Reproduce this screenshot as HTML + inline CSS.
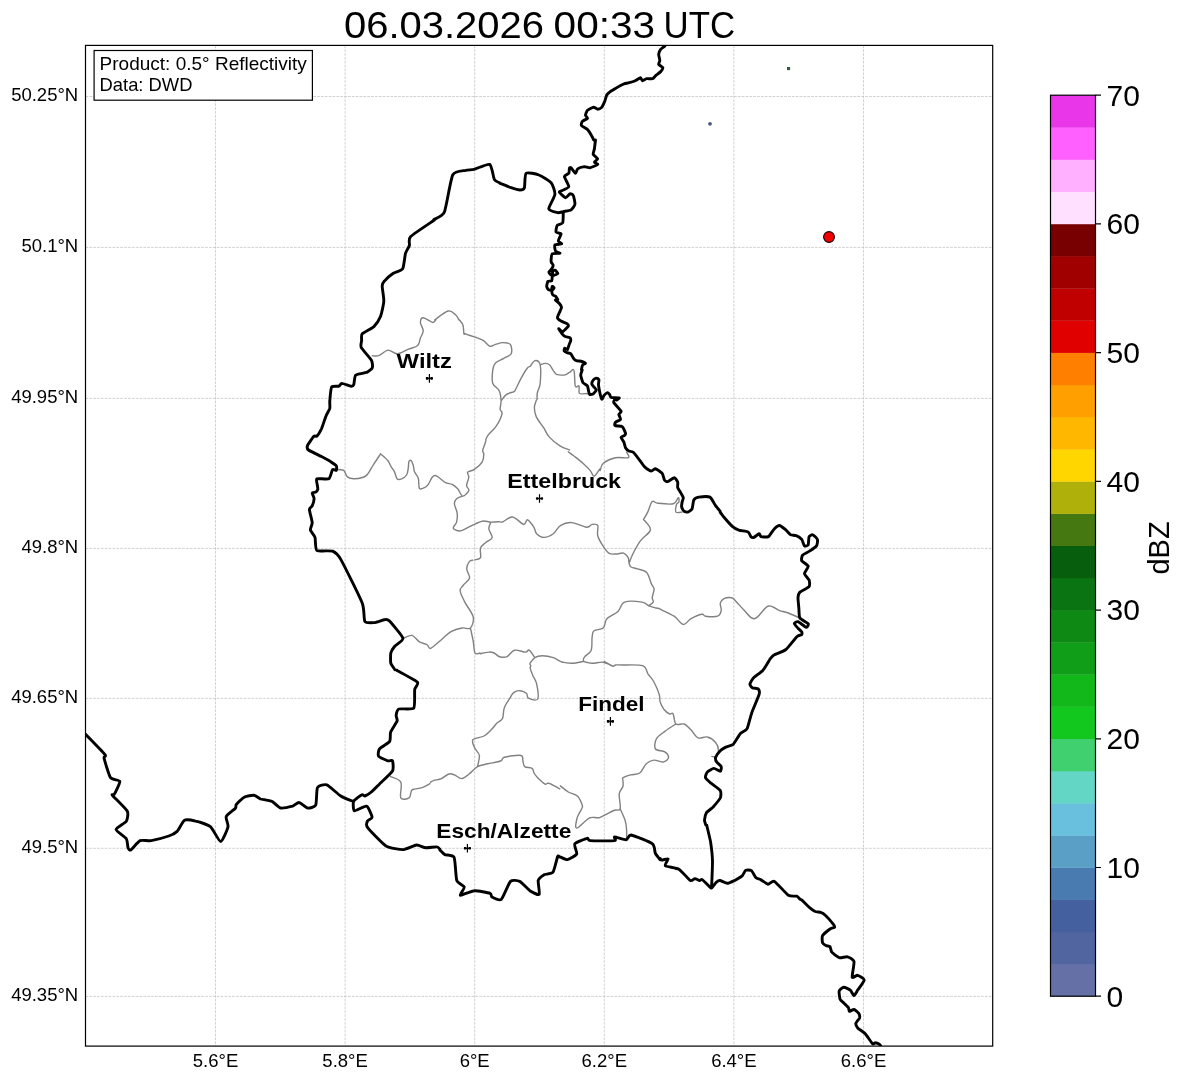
<!DOCTYPE html>
<html><head><meta charset="utf-8"><style>
html,body{margin:0;padding:0;background:#fff;}
svg{display:block;font-family:"Liberation Sans",sans-serif;will-change:transform;}
</style></head><body>
<svg width="1184" height="1081" viewBox="0 0 1184 1081">
<rect width="1184" height="1081" fill="#fff"/>
<text x="344.0" y="38.2" font-size="36.6" textLength="200.0" lengthAdjust="spacingAndGlyphs">06.03.2026</text>
<text x="553.6" y="38.2" font-size="36.6" textLength="101.5" lengthAdjust="spacingAndGlyphs">00:33</text>
<text x="663.6" y="38.2" font-size="36.6" textLength="71.6" lengthAdjust="spacingAndGlyphs">UTC</text>
<path d="M215.5 45.4V1046.1M345.1 45.4V1046.1M474.7 45.4V1046.1M604.3 45.4V1046.1M733.9 45.4V1046.1M863.5 45.4V1046.1M85.5 96.5H992.7M85.5 247.4H992.7M85.5 398.4H992.7M85.5 548.4H992.7M85.5 698.4H992.7M85.5 848.3H992.7M85.5 996.4H992.7" stroke="#c2c2c2" stroke-width="0.75" stroke-dasharray="2.7 1.16" fill="none"/>
<defs><clipPath id="ax"><rect x="85.5" y="45.4" width="907.2" height="1000.7"/></clipPath></defs><g clip-path="url(#ax)" fill="none" stroke-linejoin="round" stroke-linecap="round"><path d="M434.8,319.8C437.0,318.4 444.7,311.8 448.1,311.0C451.6,310.1 453.7,313.2 455.5,314.7C457.3,316.1 458.4,318.9 458.9,319.8M568.3,451.8C569.2,452.5 571.2,453.9 573.7,455.8C576.1,457.7 580.1,460.7 582.9,463.2C585.7,465.7 588.5,468.5 590.3,470.6C592.2,472.8 592.4,476.4 594.0,476.2C595.6,475.9 598.8,470.1 599.8,468.9M372.3,355.7C373.4,355.7 376.2,356.6 378.8,355.7C381.4,354.8 385.0,350.4 388.1,350.1C391.1,349.8 393.9,354.0 397.3,353.8C400.7,353.7 405.0,350.6 408.4,349.2C411.8,347.8 415.7,347.4 417.7,345.5C419.7,343.7 419.5,340.6 420.4,338.1C421.4,335.6 423.2,333.3 423.2,330.7C423.2,328.1 420.4,324.5 420.4,322.4C420.4,320.2 421.2,317.8 423.2,317.8C425.2,317.8 430.4,322.0 432.5,322.4C434.6,322.8 435.2,320.4 435.8,320.0M459.5,320.1C460.0,320.9 462.2,322.9 463.0,325.2C463.7,327.4 463.6,332.0 463.9,333.5C464.2,334.9 464.7,333.8 464.8,333.9M336.3,469.5C337.5,469.6 341.8,469.2 343.7,470.4C345.5,471.6 345.5,475.5 347.4,476.9C349.2,478.3 351.7,478.9 354.8,478.7C357.8,478.6 362.8,478.3 365.9,475.9C368.9,473.6 370.9,468.3 373.3,464.8C375.6,461.4 378.7,456.7 379.8,455.0M472.9,560.2C472.3,560.4 470.5,560.0 469.5,561.4C468.4,562.8 466.7,566.0 466.7,568.8C466.7,571.6 470.1,575.3 469.5,578.1C468.8,580.8 464.5,583.3 463.0,585.5C461.4,587.6 459.9,588.2 460.2,591.0C460.5,593.8 462.7,597.8 464.8,602.1C467.0,606.4 472.2,612.6 473.2,616.9C474.1,621.2 472.2,626.2 470.4,628.0C468.5,629.9 465.3,627.4 462.1,628.0C458.8,628.6 454.7,629.6 451.0,631.7C447.3,633.9 443.3,638.2 439.9,641.0C436.5,643.7 432.8,647.7 430.6,648.4C428.5,649.0 428.8,645.7 426.9,644.7C425.1,643.6 422.0,643.4 419.5,641.9C417.0,640.3 414.7,636.0 412.1,635.4C409.5,634.8 405.2,637.7 403.8,638.2M470.4,628.0C470.9,630.2 472.4,636.8 473.2,641.0C473.9,645.1 473.9,651.0 475.0,653.0C476.1,655.0 479.0,653.0 479.8,653.0M500.3,522.1C500.8,522.0 501.3,522.5 503.3,521.6C505.3,520.8 509.2,516.5 512.6,517.0C515.9,517.5 521.2,523.9 523.7,524.4C526.1,524.9 525.7,519.3 527.4,519.8C529.1,520.2 532.3,524.9 533.8,527.2C535.4,529.5 534.9,532.0 536.6,533.7C538.3,535.3 541.2,537.4 544.0,537.4C546.8,537.4 550.5,535.7 553.3,533.7C556.0,531.6 557.6,527.2 560.7,525.3C563.7,523.5 567.4,522.2 571.8,522.6C576.1,522.9 583.2,526.9 586.6,527.2C590.0,527.5 590.3,524.7 592.1,524.4C594.0,524.1 596.7,523.5 597.7,525.3C598.6,527.2 596.9,532.3 597.7,535.5C598.4,538.7 600.4,541.8 602.3,544.8C604.1,547.7 606.4,551.5 608.8,553.1C611.1,554.6 613.7,554.0 616.2,554.0C618.6,554.0 621.6,552.5 623.6,553.1C625.6,553.7 627.3,556.0 628.2,557.7C629.1,559.4 628.6,561.7 629.1,563.3C629.6,564.8 629.6,566.0 631.0,567.0C632.3,567.9 634.8,567.9 637.4,568.8C640.1,569.7 644.4,570.0 646.7,572.5C649.0,575.0 650.1,580.8 651.3,583.6C652.5,586.4 653.9,586.8 654.1,589.2C654.2,591.5 652.4,595.3 652.2,597.5C652.1,599.6 653.8,600.7 653.2,602.1C652.5,603.5 649.3,605.2 648.5,605.8M629.1,563.3C629.7,561.7 631.0,557.7 632.8,554.0C634.7,550.3 637.3,545.1 640.2,541.1C643.1,537.0 649.7,533.4 650.4,530.0C651.1,526.5 645.2,521.8 644.2,520.2M648.5,605.8C649.6,606.1 653.2,607.2 655.0,607.7C656.9,608.1 658.9,608.4 659.6,608.6M648.5,605.8C647.5,605.2 646.1,602.7 642.1,602.1C638.1,601.5 628.5,600.6 624.5,602.1C620.5,603.7 620.9,608.6 618.0,611.4C615.1,614.1 609.4,616.0 606.9,618.8C604.4,621.5 605.4,626.0 603.2,628.0C601.1,630.0 595.8,629.2 594.0,630.8C592.1,632.3 592.6,634.0 592.1,637.3C591.6,640.5 592.4,647.0 591.2,650.2C590.0,653.5 585.9,654.8 584.7,656.7C583.5,658.5 582.6,660.2 583.8,661.3C585.0,662.4 588.9,663.0 592.1,663.2C595.3,663.3 599.8,661.8 603.2,662.2C606.6,662.7 610.7,665.4 612.5,665.9C614.3,666.5 613.7,665.7 614.0,665.7M583.8,661.3C582.1,661.6 577.2,663.0 573.6,663.2C570.1,663.3 565.9,663.2 562.5,662.2C559.1,661.3 556.6,658.7 553.3,657.6C549.9,656.5 545.2,655.8 542.2,655.8C539.1,655.8 536.8,656.4 534.8,657.6C532.8,658.8 530.9,662.0 530.1,663.2C529.4,664.3 530.3,664.4 530.3,664.7M534.8,657.6C533.8,656.4 530.7,651.1 529.2,650.2C527.7,649.3 528.0,652.1 525.5,652.1C523.0,652.1 517.5,649.4 514.4,650.2C511.3,651.0 509.5,655.6 507.0,656.7C504.5,657.8 501.8,657.3 499.6,656.7C497.4,656.1 495.9,653.8 494.1,653.0C492.2,652.2 490.8,651.9 488.5,652.1C486.2,652.2 481.6,653.4 480.3,653.7M660.1,609.2C662.5,610.4 670.2,613.6 674.1,616.2C677.9,618.7 680.5,624.0 683.3,624.5C686.1,624.9 687.6,620.6 690.7,618.9C693.8,617.2 699.3,614.8 701.8,614.3C704.3,613.8 702.9,615.9 705.5,616.2C708.1,616.5 714.9,617.1 717.5,616.2C720.2,615.2 720.8,612.8 721.2,610.6C721.7,608.5 719.8,605.2 720.3,603.2C720.8,601.2 722.2,599.5 724.0,598.6C725.9,597.7 729.6,597.4 731.4,597.7C733.3,598.0 732.9,598.3 735.1,600.4C737.3,602.6 741.6,607.7 744.4,610.6C747.1,613.5 749.6,616.9 751.8,618.0C753.9,619.1 754.5,619.1 757.3,617.1C760.1,615.1 764.7,607.1 768.4,606.0C772.1,604.9 776.4,609.5 779.5,610.6C782.6,611.7 783.5,611.2 786.9,612.5C790.3,613.7 797.7,617.1 799.9,618.0M615.1,665.2 615.6,665.1M622.2,665.0C625.6,665.1 638.2,664.2 642.6,665.7C646.9,667.2 646.3,671.4 648.1,674.1C650.0,676.7 651.8,678.1 653.7,681.5C655.5,684.8 658.1,691.0 659.2,694.4C660.3,697.8 659.4,699.3 660.1,701.8C660.9,704.3 662.3,707.2 663.8,709.2C665.4,711.2 667.8,713.1 669.4,713.8C670.9,714.6 672.0,712.1 673.1,713.8C674.2,715.5 674.0,722.3 675.9,724.0C677.7,725.7 681.7,723.1 684.2,724.0C686.6,724.9 688.3,727.2 690.7,729.6C693.0,731.9 695.3,736.6 698.1,737.9C700.8,739.1 704.4,736.2 707.3,737.0C710.2,737.7 713.8,740.3 715.6,742.5C717.5,744.7 718.3,747.6 718.4,749.9C718.6,752.2 717.6,755.3 716.6,756.4C715.5,757.5 712.7,756.4 711.9,756.4M675.9,724.0C674.0,725.2 668.0,728.9 664.8,731.4C661.5,733.9 658.0,735.9 656.4,738.8C654.9,741.7 654.1,746.8 655.5,749.0C656.9,751.1 662.6,750.4 664.8,751.8C666.9,753.1 668.6,755.6 668.5,757.3C668.3,759.0 666.3,761.5 663.8,761.9C661.4,762.4 656.6,759.8 653.7,760.1C650.7,760.4 648.6,761.6 646.3,763.8C643.9,765.9 642.4,771.2 639.8,773.0C637.2,774.9 633.3,774.1 630.5,774.9C627.8,775.7 624.4,776.9 623.1,777.7C621.8,778.5 622.9,779.3 622.8,779.7M530.8,665.5C530.7,666.0 529.9,666.8 530.3,668.5C530.6,670.2 532.0,673.3 533.0,675.9C534.1,678.5 536.0,680.4 536.7,684.2C537.5,688.1 539.0,696.7 537.7,699.0C536.3,701.3 530.3,699.0 528.4,698.1C526.6,697.2 527.9,694.7 526.6,693.5C525.2,692.2 522.2,690.9 520.1,690.7C517.9,690.5 515.3,691.3 513.6,692.6C511.9,693.8 511.4,695.6 509.9,698.1C508.4,700.6 505.6,704.0 504.4,707.4C503.1,710.7 503.7,715.8 502.5,718.5C501.3,721.1 498.8,721.2 497.0,723.1C495.1,724.9 493.6,727.4 491.4,729.6C489.2,731.7 487.1,734.3 484.0,736.0C480.9,737.7 474.4,737.7 472.9,739.7C471.4,741.7 473.7,745.4 474.8,748.1C475.8,750.7 478.9,752.4 479.4,755.5C479.8,758.5 477.8,764.7 477.5,766.6M430.4,782.3C431.0,782.0 432.2,781.1 434.1,780.4C435.9,779.8 439.0,779.7 441.5,778.6C443.9,777.5 446.7,774.6 448.9,774.0C451.0,773.3 452.2,774.1 454.4,774.9C456.6,775.7 459.3,778.7 461.8,778.6C464.3,778.4 466.6,776.0 469.2,774.0C471.8,772.0 474.4,768.3 477.5,766.6C480.6,764.9 483.9,764.7 487.7,763.8C491.6,762.9 497.9,762.1 500.7,761.0C503.4,759.9 501.0,758.2 504.4,757.3C507.7,756.4 517.9,754.8 521.0,755.5C524.1,756.1 522.2,759.2 522.9,761.0C523.5,762.9 523.2,765.3 524.7,766.6C526.3,767.8 530.6,767.3 532.1,768.4C533.7,769.5 533.0,771.5 534.0,773.0C534.9,774.6 536.7,776.6 537.7,777.7C538.6,778.7 538.3,778.4 539.5,779.5C540.7,780.6 543.5,783.5 545.1,784.1C546.6,784.8 546.6,782.6 548.8,783.2C550.9,783.8 556.2,786.9 558.0,787.8C559.8,788.8 559.5,788.7 559.8,788.9M390.6,776.6C392.3,777.5 399.1,778.6 400.8,782.1C402.5,785.7 399.4,795.2 400.8,797.8C402.2,800.5 407.4,798.8 409.1,797.8C410.8,796.9 410.3,793.7 411.0,792.3C411.6,790.9 411.0,790.3 412.8,789.5C414.7,788.7 419.2,788.6 422.1,787.7C424.9,786.7 428.6,784.4 429.9,783.7M465.0,333.6C467.0,334.4 473.9,336.8 477.0,337.9C480.1,339.1 481.3,339.3 483.5,340.7C485.6,342.1 487.9,345.6 490.0,346.3C492.0,346.9 493.3,345.0 495.5,344.4C497.7,343.8 500.4,342.6 502.9,342.6C505.4,342.6 508.9,342.6 510.3,344.4C511.7,346.3 512.3,351.3 511.2,353.7C510.2,356.0 506.5,356.7 503.8,358.3C501.2,359.8 497.4,360.9 495.5,362.9C493.7,364.9 493.2,366.9 492.7,370.3C492.3,373.7 491.6,379.9 492.7,383.3C493.8,386.6 497.8,387.7 499.2,390.7C500.6,393.6 500.9,397.7 501.1,400.8C501.2,403.9 500.0,407.0 500.1,409.2C500.3,411.3 502.6,411.0 502.0,413.8C501.4,416.6 498.7,422.3 496.4,425.8C494.1,429.4 489.9,432.7 488.1,435.1C486.3,437.4 486.2,438.9 485.8,439.7M501.1,400.8C502.0,399.8 504.4,395.9 506.6,394.4C508.8,392.8 512.5,392.5 514.0,391.6C515.5,390.7 514.6,391.1 515.9,388.8C517.1,386.5 519.6,381.1 521.4,377.7C523.3,374.3 525.5,370.3 527.0,368.5C528.4,366.6 529.4,366.8 529.9,366.5M536.3,400.3C536.0,401.5 534.4,404.6 534.4,407.3C534.3,410.0 534.7,413.2 536.2,416.6C537.7,420.0 541.4,424.3 543.6,427.7C545.8,431.1 546.4,433.8 549.2,436.9C551.9,440.0 556.9,444.0 560.3,446.2C563.7,448.3 568.0,449.2 569.5,449.9M380.4,453.7C381.6,454.8 386.0,458.4 387.8,460.5C389.6,462.7 390.0,464.8 391.1,466.6C392.2,468.5 393.4,469.6 394.4,471.6C395.4,473.7 396.0,477.7 397.2,478.9C398.4,480.1 400.1,479.5 401.6,478.9C403.2,478.2 405.5,476.8 406.6,475.0C407.8,473.1 407.9,470.0 408.3,467.8C408.7,465.5 408.4,462.8 408.9,461.6C409.3,460.4 410.3,459.9 411.1,460.5C411.8,461.2 412.7,463.7 413.3,465.5C413.9,467.4 413.6,469.5 414.4,471.6C415.2,473.8 417.5,475.5 418.3,478.3C419.1,481.1 418.4,486.7 419.4,488.3C420.4,489.9 422.9,488.4 424.4,487.7C425.9,487.1 427.0,486.2 428.3,484.4C429.6,482.6 431.0,478.7 432.2,477.2C433.4,475.7 434.2,475.3 435.5,475.5C436.8,475.7 438.3,477.1 439.9,478.3C441.6,479.5 443.5,481.7 445.5,482.7C447.5,483.8 450.1,483.4 452.2,484.4C454.2,485.4 455.9,486.9 457.7,488.8C459.5,490.8 460.9,495.8 462.7,496.1C464.6,496.3 468.2,492.3 468.8,490.5C469.5,488.8 466.6,487.7 466.6,485.5C466.6,483.3 468.6,479.4 468.8,477.2C469.0,475.0 466.8,473.5 467.7,472.2C468.6,470.9 472.0,471.1 474.4,469.4C476.8,467.8 480.6,464.7 482.1,462.2C483.7,459.7 483.7,456.4 483.8,454.4C483.9,452.5 482.5,452.3 482.7,450.5C482.9,448.8 484.4,445.6 484.9,443.9C485.4,442.2 485.7,441.1 485.9,440.5M462.7,496.1C461.7,496.5 458.0,497.5 456.6,498.8C455.2,500.1 454.3,501.4 454.4,503.8C454.5,506.2 456.8,510.2 457.2,513.3C457.5,516.3 457.2,519.6 456.6,522.1C455.9,524.6 452.7,526.8 453.3,528.3C453.8,529.7 457.5,531.1 459.9,531.0C462.3,530.9 465.1,528.9 467.7,527.7C470.3,526.5 472.9,524.9 475.5,523.8C478.1,522.7 480.6,521.3 483.2,521.0C485.8,520.8 488.3,522.0 491.0,522.1C493.7,522.2 498.1,521.7 499.5,521.6M491.0,522.1C490.6,523.3 488.6,526.2 488.8,528.8C489.0,531.4 492.7,535.4 492.1,537.7C491.6,540.0 487.4,540.9 485.5,542.7C483.5,544.4 481.3,545.7 480.5,548.2C479.6,550.7 481.4,555.7 480.5,557.7C479.5,559.6 475.8,559.5 474.8,559.8M560.4,785.9C561.7,786.9 565.5,790.3 568.3,792.0C571.2,793.7 575.3,794.0 577.6,796.2C579.9,798.3 581.5,802.9 582.2,805.0C582.9,807.1 582.6,806.5 581.7,808.7C580.9,810.8 578.0,814.7 577.1,817.9C576.3,821.2 574.6,828.1 576.7,828.1C578.7,828.1 585.7,819.7 589.6,817.9C593.5,816.2 595.8,818.7 599.8,817.5C603.8,816.2 610.3,812.0 613.7,810.5C617.0,809.1 619.2,811.5 620.1,808.7C621.1,805.9 618.7,797.6 619.2,793.9C619.7,790.2 622.3,788.7 622.9,786.5C623.5,784.3 622.9,781.5 622.9,780.5M620.1,808.7C621.0,810.7 624.1,817.2 625.2,820.7C626.3,824.2 626.4,827.2 626.6,830.0C626.8,832.7 626.6,836.1 626.6,837.4M604.5,661.5C605.9,662.3 610.7,665.6 612.6,666.2C614.5,666.8 613.8,665.1 615.9,664.9C618.0,664.7 623.5,665.0 625.0,665.0M530.3,366.2C531.1,365.3 533.4,360.8 535.1,360.6C536.7,360.4 539.3,361.0 540.2,364.8C541.0,368.5 540.6,378.6 540.2,383.3C539.7,387.9 537.9,389.8 537.4,392.5C536.9,395.2 537.0,398.3 537.0,399.5M540.2,364.8C541.1,364.5 544.2,363.4 545.7,363.4C547.3,363.4 548.2,363.6 549.4,364.8C550.7,365.9 552.0,368.8 553.1,370.3C554.2,371.8 554.8,373.2 555.9,374.0C557.0,374.8 558.1,374.8 559.6,374.9C561.1,375.1 563.5,375.4 565.2,374.9C566.8,374.5 568.3,372.9 569.8,372.2C571.2,371.4 573.0,368.0 573.9,370.3C574.9,372.6 574.5,383.4 575.3,386.0C576.2,388.7 578.3,384.8 579.0,386.0C579.7,387.3 578.3,392.2 579.5,393.4C580.7,394.7 585.2,393.4 586.3,393.4M586.6,393.7 588.1,393.7M600.2,470.6C600.7,469.3 600.8,465.4 603.3,463.3C605.9,461.1 611.4,458.6 615.5,457.7C619.7,456.8 626.5,458.6 628.3,457.7C630.2,456.8 626.9,453.1 626.6,452.2M643.5,519.6C644.2,518.3 646.3,515.1 647.7,512.1C649.2,509.1 650.5,503.1 652.2,501.6C653.8,500.1 654.2,502.9 657.7,503.2C661.2,503.6 669.8,504.7 673.3,503.8C676.7,502.9 677.3,498.0 678.3,497.7C679.2,497.4 679.1,501.0 678.8,502.1C678.5,503.2 677.1,502.7 676.6,504.3C676.1,506.0 675.1,510.8 676.0,512.1C677.0,513.4 681.1,512.1 682.1,512.1" stroke="#808080" stroke-width="1.4"/><path d="M433.8,219.7C434.9,218.9 442.5,216.5 444.4,212.0C446.3,207.5 450.6,179.1 452.7,175.0C454.9,170.8 463.6,170.9 465.7,170.4C467.8,169.8 471.6,170.0 474.0,169.4C476.4,168.8 487.7,163.4 489.7,164.4C491.8,165.4 493.4,177.8 494.4,179.6C495.3,181.4 499.1,182.5 499.6,182.8M361.7,340.1C361.7,340.8 360.3,345.3 361.2,347.4C362.2,349.4 370.3,358.3 371.4,360.3C372.5,362.3 372.8,366.5 372.3,367.7C371.9,368.9 368.4,371.6 366.8,372.3C365.1,373.1 357.0,373.9 355.7,375.1C354.4,376.3 354.3,383.2 353.8,384.4C353.4,385.5 352.3,386.3 351.1,386.2C349.9,386.1 343.0,383.4 341.8,383.4C340.6,383.4 340.0,385.8 339.0,386.2C338.0,386.6 332.6,385.7 331.6,387.1C330.7,388.6 330.0,398.9 329.8,401.0C329.6,403.1 330.1,406.9 329.8,408.4C329.4,409.9 326.9,413.8 326.1,415.8C325.2,417.8 322.4,426.7 321.5,428.8C320.5,430.8 317.6,435.4 316.8,436.2C316.1,436.9 315.0,435.2 314.1,436.2C313.1,437.1 308.1,444.0 307.6,445.4C307.0,446.8 307.1,448.9 308.5,450.0C309.9,451.1 319.3,455.4 321.5,456.5C323.6,457.6 328.3,460.2 329.8,461.1C331.3,462.1 335.6,464.8 336.3,465.8C336.9,466.7 336.6,470.0 336.3,470.4C335.9,470.8 333.3,468.6 332.6,469.5C331.8,470.3 330.4,477.8 328.9,478.7C327.3,479.6 318.0,478.1 316.8,478.7C315.7,479.3 317.3,484.3 317.3,484.9M317.3,485.1C317.4,485.6 317.9,488.6 317.8,489.3C317.6,489.9 316.5,491.7 315.9,492.0C315.3,492.4 312.4,492.3 312.2,493.0C312.0,493.6 314.1,497.2 314.1,498.5C314.1,499.8 312.7,504.8 312.2,505.9C311.7,507.0 309.4,507.9 309.4,509.6C309.4,511.3 312.1,520.5 312.2,522.6C312.3,524.6 310.1,528.5 310.4,530.0C310.6,531.4 314.3,535.3 315.0,537.4C315.6,539.4 315.1,548.9 316.8,550.3C318.6,551.7 330.1,550.3 332.6,551.2C335.0,552.2 337.9,554.4 340.9,559.6C343.8,564.7 359.8,596.8 362.2,603.0C364.6,609.2 363.6,619.6 364.9,621.5C366.2,623.5 373.2,622.6 375.1,622.5C377.0,622.3 383.0,619.9 384.4,619.7C385.7,619.5 387.1,618.8 389.0,620.6C390.8,622.5 402.3,635.6 402.9,638.2C403.4,640.8 395.7,645.0 394.5,646.5C393.3,648.0 391.2,651.3 390.8,653.0C390.5,654.7 390.4,661.5 390.8,663.2C391.2,664.8 394.5,669.0 394.9,669.7M720.3,512.4C720.7,512.8 722.8,515.8 724.0,517.2C725.2,518.6 730.9,525.1 732.3,526.4C733.8,527.7 737.2,529.6 738.8,530.1C740.4,530.7 746.9,531.3 748.1,532.0C749.3,532.6 750.3,536.0 750.8,536.6C751.4,537.2 752.8,537.8 753.6,537.5C754.4,537.3 758.4,533.9 759.2,533.8C759.9,533.7 760.1,536.3 761.0,536.6C761.9,536.9 767.1,537.3 768.4,536.6C769.7,535.9 772.8,530.3 774.0,529.2C775.1,528.1 778.3,525.4 779.5,525.5C780.7,525.6 784.9,529.2 786.0,530.1C787.1,531.1 789.6,534.2 790.6,534.8C791.6,535.3 795.1,535.2 796.2,535.7C797.3,536.1 800.9,538.4 801.7,539.4C802.5,540.4 803.8,545.3 804.5,545.9C805.1,546.4 807.7,545.9 808.2,544.9C808.6,544.0 808.6,537.6 809.1,536.6C809.6,535.6 812.0,534.5 812.8,534.8C813.6,535.0 817.1,538.3 817.4,539.4C817.8,540.5 817.3,544.7 816.5,545.9C815.7,547.1 810.5,550.5 809.1,551.4C807.7,552.3 803.4,554.2 802.6,555.1C801.9,556.0 801.2,559.5 801.7,560.7C802.3,561.8 807.9,564.9 808.2,566.2C808.5,567.5 804.4,572.2 804.5,573.6C804.6,575.0 808.6,578.8 809.1,580.1C809.6,581.4 810.0,585.4 809.1,586.6C808.2,587.8 801.0,591.0 799.9,592.1C798.8,593.2 798.1,596.0 798.0,597.7C797.9,599.3 798.8,606.7 798.9,608.8C799.1,610.8 798.9,616.5 799.9,618.0C800.8,619.5 807.5,622.6 808.2,623.6C808.8,624.5 807.4,627.4 806.3,627.3C805.3,627.1 799.2,622.1 798.0,621.7C796.8,621.3 794.3,622.9 794.3,623.6C794.3,624.2 797.3,627.4 798.0,628.2C798.8,629.0 801.3,631.2 801.7,631.9C802.1,632.5 802.2,634.2 801.7,634.7C801.2,635.1 798.7,635.0 797.1,636.5C795.5,638.0 788.3,647.6 786.0,649.5C783.7,651.3 775.5,654.1 774.0,655.0C772.4,655.9 770.7,658.3 770.3,658.7C769.8,659.2 769.7,659.5 769.7,659.6M769.2,660.4C768.6,661.4 764.4,668.6 762.8,670.4C761.2,672.1 754.9,676.4 753.6,677.8C752.3,679.1 750.0,683.2 749.9,684.2C749.8,685.2 751.8,687.5 752.6,687.9C753.5,688.4 757.5,688.2 758.2,688.9C758.8,689.5 759.8,692.0 759.1,694.4C758.5,696.8 752.9,709.5 751.7,712.9C750.5,716.3 748.2,726.6 747.1,728.6C746.0,730.7 742.0,731.7 740.6,733.3C739.2,734.8 734.7,743.0 733.2,744.4C731.7,745.7 727.1,746.5 725.8,747.1C724.5,747.8 721.3,749.8 720.3,750.8C719.2,751.9 716.0,756.2 715.6,757.3C715.3,758.4 716.0,761.0 716.6,761.9C717.1,762.9 720.8,765.6 721.2,766.6C721.6,767.5 721.0,771.0 720.3,771.2C719.5,771.4 715.1,768.3 713.8,768.4C712.5,768.5 708.1,771.2 707.3,772.1C706.5,773.0 705.1,776.5 705.5,777.7C705.8,778.8 709.5,781.9 711.0,783.2C712.5,784.5 719.3,789.1 720.3,790.6C721.2,792.1 721.0,796.3 720.3,798.0C719.5,799.7 714.2,805.8 712.9,807.3C711.5,808.7 707.2,811.5 706.4,812.8C705.6,814.1 704.6,819.0 704.5,820.2C704.5,821.4 705.6,824.3 705.7,824.8M396.8,670.1C396.9,670.2 395.9,669.9 398.0,671.1C400.1,672.3 415.8,680.4 417.4,682.2C419.1,684.1 415.0,687.0 414.7,689.6C414.3,692.2 415.3,706.2 413.7,708.1C412.2,710.0 400.7,708.3 398.9,709.0C397.2,709.8 396.3,714.3 396.2,715.5C396.0,716.7 397.6,719.4 397.1,721.1C396.5,722.7 391.4,730.1 390.6,732.2C389.9,734.2 390.8,739.7 389.7,741.4C388.6,743.1 380.6,747.3 379.5,748.8C378.4,750.3 377.8,755.0 378.6,756.2C379.4,757.4 386.4,760.4 387.8,760.8C389.2,761.3 392.0,759.8 392.5,760.8C392.9,761.9 393.8,768.7 392.5,771.0C391.2,773.3 381.5,781.9 379.5,784.0C377.5,786.0 373.6,790.2 372.1,791.4C370.6,792.6 365.7,795.7 364.7,796.0C363.7,796.3 363.0,794.1 361.9,794.7C360.8,795.2 354.3,799.9 353.6,801.5C352.9,803.1 353.2,810.3 354.5,810.8C355.8,811.2 364.8,805.5 366.6,806.2C368.3,806.8 372.0,815.8 372.1,817.3C372.2,818.7 367.9,819.9 367.5,821.0C367.0,822.0 365.6,824.9 367.5,827.4C369.3,829.9 382.4,843.7 386.0,845.9C389.6,848.2 400.5,849.7 403.6,849.6C406.6,849.5 414.3,845.2 416.5,845.0C418.7,844.8 423.7,847.6 425.8,847.8C427.8,848.0 435.5,846.7 436.9,846.9C438.3,847.0 439.5,848.8 439.7,849.0M353.6,801.5C352.3,801.0 343.3,797.7 340.7,796.0C338.0,794.3 329.1,785.7 326.8,784.9C324.5,784.1 318.6,785.6 317.5,787.7C316.4,789.7 316.7,803.2 315.7,805.2C314.7,807.3 309.0,808.3 307.4,808.0C305.7,807.7 300.5,802.6 299.0,802.5C297.5,802.3 294.4,805.6 292.6,806.2C290.7,806.7 282.6,808.5 280.5,808.0C278.5,807.5 273.7,802.3 272.2,801.5C270.7,800.7 265.9,800.1 265.2,799.9M85.6,734.2C87.5,736.3 103.1,752.2 105.0,754.6C106.8,757.0 103.5,756.0 104.1,758.3C104.6,760.6 109.0,775.4 110.5,777.7C112.1,780.0 119.4,779.7 119.8,781.4C120.1,783.1 115.0,793.0 114.2,794.4C113.5,795.7 111.1,793.6 112.4,795.3C113.7,796.9 125.8,808.4 127.2,811.0C128.6,813.6 127.4,819.3 126.3,821.2C125.1,823.0 116.1,827.8 116.1,829.5C116.1,831.3 125.1,836.9 126.3,838.8C127.5,840.6 127.6,846.9 128.1,848.0C128.6,849.1 129.7,850.6 130.9,849.9C132.1,849.1 138.1,841.5 140.1,840.6C142.2,839.7 148.4,841.1 151.2,840.6C154.1,840.1 166.2,836.9 168.8,836.0C171.4,835.1 175.6,832.9 177.1,831.4C178.7,829.8 182.7,821.3 184.5,820.3C186.4,819.2 193.0,820.5 195.6,821.2C198.2,821.8 207.9,824.7 210.4,826.7C212.9,828.8 218.9,841.5 220.6,841.5C222.4,841.5 227.5,829.2 228.0,826.7C228.6,824.2 225.4,818.4 226.2,816.6C226.9,814.7 234.4,809.4 235.4,808.2C236.4,807.0 235.4,805.6 236.3,804.5C237.3,803.4 242.9,798.1 244.7,797.1C246.4,796.2 252.3,795.1 253.9,795.3C255.5,795.5 259.3,798.5 260.4,799.0C261.5,799.4 264.4,799.6 264.9,799.7M440.0,850.1C440.5,850.6 443.4,853.9 444.8,854.6C446.2,855.3 452.8,854.8 454.1,857.4C455.3,859.9 455.8,877.5 456.8,880.5C457.8,883.4 463.9,885.5 464.2,887.0C464.6,888.4 459.5,894.9 460.5,895.3C461.5,895.7 471.4,890.8 474.4,890.7C477.4,890.5 488.4,892.8 490.1,893.4C491.9,894.1 490.9,896.5 492.0,897.1C493.1,897.7 499.4,901.1 501.2,899.5C503.1,898.0 508.6,883.2 510.5,881.4C512.3,879.6 517.8,880.5 519.7,881.4C521.7,882.3 528.0,889.4 529.9,890.7C531.9,892.0 538.3,895.4 539.2,894.4C540.0,893.3 537.8,882.4 538.2,880.5C538.7,878.5 542.3,875.8 543.8,874.9C545.3,874.1 551.6,874.0 553.0,872.2C554.4,870.3 557.0,857.9 557.7,856.4C558.3,854.9 559.4,856.9 559.6,857.0M660.3,858.6C660.4,858.7 660.8,860.1 661.6,860.1C662.4,860.2 667.7,858.3 668.1,858.8C668.5,859.4 664.2,864.6 665.3,865.7C666.4,866.7 676.7,867.9 679.2,869.4C681.7,870.9 688.7,879.6 690.3,880.5C691.9,881.4 694.0,878.6 694.9,878.6C695.9,878.6 698.8,880.4 699.6,880.5C700.3,880.6 701.2,878.8 702.3,879.6C703.4,880.3 709.6,887.1 710.7,887.9C711.7,888.6 712.0,887.5 712.5,887.0C713.1,886.4 715.5,883.0 716.2,882.3C716.9,881.7 718.8,880.4 719.9,880.5C721.0,880.6 725.8,883.3 727.3,883.3C728.8,883.3 733.2,881.2 734.7,880.5C736.2,879.7 741.0,876.9 742.1,875.9C743.2,874.8 744.9,870.8 745.8,870.3C746.7,869.8 750.3,869.9 751.4,870.7C752.4,871.4 755.1,876.8 756.0,877.7C756.9,878.6 759.4,878.9 760.6,879.6C761.8,880.2 766.6,884.0 768.0,884.2C769.4,884.4 772.5,880.3 774.5,881.4C776.5,882.5 786.1,893.8 788.4,895.3C790.6,896.8 795.5,895.8 796.7,896.2C797.9,896.6 799.8,899.0 800.2,899.3M706.7,825.2C707.1,826.9 710.1,839.0 710.7,842.6C711.2,846.1 712.4,856.6 712.5,861.1C712.6,865.5 711.7,884.4 711.6,887.0M800.9,899.5C801.0,899.6 801.4,899.6 802.2,900.4C803.0,901.1 807.4,905.7 808.7,906.8C810.0,907.9 814.0,910.9 815.2,911.5C816.4,912.0 819.7,912.0 820.7,912.4C821.7,912.7 824.1,914.0 825.3,915.2C826.5,916.3 831.8,922.3 832.7,923.5C833.7,924.7 834.9,926.6 834.6,927.2C834.3,927.7 831.2,928.2 830.0,929.0C828.8,929.9 823.3,934.1 822.6,935.5C821.8,936.9 822.2,941.9 822.6,942.9C822.9,943.9 825.5,945.3 826.3,945.7C827.0,946.0 829.4,946.0 830.0,946.6C830.5,947.3 830.9,951.0 831.8,952.2C832.7,953.3 837.6,957.2 839.2,957.7C840.8,958.2 846.0,956.4 847.5,956.8C849.0,957.2 853.5,959.4 854.0,961.4C854.5,963.4 851.8,975.7 852.2,977.1C852.5,978.5 856.5,975.0 857.7,975.3C858.9,975.6 864.2,978.4 864.2,979.9C864.2,981.4 858.7,988.5 857.7,990.1C856.7,991.7 854.7,995.6 854.0,995.6C853.3,995.6 851.3,990.9 850.3,990.1C849.3,989.3 844.9,987.2 843.8,987.3C842.7,987.4 839.6,989.8 839.2,991.0C838.8,992.2 839.7,998.1 840.1,999.3C840.6,1000.5 843.0,1002.2 843.8,1003.0C844.7,1003.9 847.9,1006.8 848.5,1007.7C849.0,1008.5 848.8,1011.2 849.4,1011.4C849.9,1011.5 853.1,1009.3 854.0,1009.5C854.9,1009.7 858.1,1012.4 858.6,1013.2C859.2,1014.0 859.8,1016.8 859.6,1017.8C859.3,1018.9 856.0,1022.4 855.9,1023.4C855.7,1024.4 856.8,1027.0 857.7,1028.0C858.6,1029.0 863.6,1032.0 865.1,1033.6C866.6,1035.1 871.5,1042.8 872.5,1043.7C873.5,1044.7 874.5,1042.7 875.3,1042.8C876.0,1042.9 879.4,1044.3 879.9,1044.7C880.5,1045.0 880.7,1046.3 880.8,1046.5M434.4,220.0C432.0,221.7 413.0,234.1 410.5,236.7C408.0,239.2 409.9,243.9 409.4,245.5C408.9,247.2 406.2,251.0 405.5,253.3C404.8,255.6 403.9,266.8 402.7,268.8C401.5,270.8 395.1,272.1 393.3,273.3C391.5,274.5 385.5,279.8 384.4,281.1C383.3,282.3 382.2,284.1 382.2,286.0C382.1,288.0 384.0,298.0 383.8,301.0C383.7,304.1 381.5,314.0 380.5,316.6C379.5,319.1 375.7,324.8 373.9,326.6C372.0,328.3 363.4,332.4 362.2,333.8C361.0,335.1 361.7,339.4 361.6,340.0M664.8,46.1C664.4,46.4 661.4,48.3 660.8,49.2C660.2,50.0 658.8,53.1 658.7,54.2C658.6,55.4 659.8,59.3 659.8,60.4C659.8,61.4 658.4,63.7 658.7,64.4C659.0,65.1 662.6,66.8 662.8,67.5C663.0,68.2 661.5,70.7 660.8,71.5C660.1,72.4 656.5,74.9 655.7,75.6C654.9,76.3 653.6,78.4 652.6,78.7C651.7,79.0 647.5,78.5 646.5,78.7C645.5,78.9 643.1,80.8 642.5,80.7C641.9,80.6 641.1,77.7 640.4,77.7C639.7,77.7 636.5,80.2 635.3,80.7C634.2,81.2 630.4,82.4 629.2,82.7C628.1,83.0 625.1,83.5 624.1,83.8C623.2,84.1 621.0,85.3 620.1,85.8C619.2,86.3 616.0,88.2 615.0,88.8C614.0,89.5 610.7,91.3 609.9,91.9C609.1,92.5 607.4,94.0 606.8,94.9C606.3,95.9 605.3,99.8 604.8,101.1C604.3,102.3 602.5,106.3 601.8,107.2C601.0,108.0 598.5,109.2 597.7,109.2C596.9,109.2 594.6,107.1 593.6,107.2C592.6,107.3 588.3,109.4 587.5,110.2C586.7,111.0 585.5,114.5 585.5,115.3C585.5,116.1 587.8,117.7 587.5,118.4C587.2,119.0 583.0,120.7 582.4,121.4C581.8,122.1 580.9,124.7 581.4,125.5C581.9,126.3 586.5,128.5 587.5,129.5C588.5,130.6 591.0,134.6 591.6,135.7C592.2,136.7 593.5,139.5 593.7,139.9M560.0,856.8C560.7,857.1 565.7,859.8 567.4,859.6C569.1,859.3 575.9,855.6 576.7,854.0C577.4,852.4 573.7,845.4 574.8,843.8C575.9,842.3 585.8,838.6 587.3,838.3C588.8,838.0 587.3,840.4 590.1,840.6C592.8,840.8 612.1,841.0 614.6,840.6C617.0,840.2 613.4,837.0 614.6,836.9C615.7,836.8 624.5,839.9 626.1,839.7C627.8,839.5 628.6,834.6 631.2,835.0C633.9,835.5 650.1,842.0 652.5,843.8C654.9,845.6 654.5,851.5 655.3,853.1C656.0,854.7 659.5,858.9 660.0,859.6M551.1,260.3C551.1,260.5 551.1,261.9 551.3,262.4C551.5,262.8 553.1,264.5 553.1,265.1C553.2,265.8 552.2,268.1 551.7,268.8C551.3,269.5 549.1,271.5 549.0,272.1C548.8,272.6 549.8,274.1 550.4,274.4C550.9,274.7 553.3,275.4 554.1,275.3C554.8,275.2 557.7,274.0 557.8,273.5C557.8,272.9 555.5,270.4 555.0,270.2C554.5,270.0 552.9,271.0 552.7,271.6C552.4,272.2 552.3,275.3 552.2,276.2C552.1,277.2 552.2,280.3 551.7,280.9C551.3,281.4 548.5,280.8 548.0,281.3C547.5,281.9 546.6,285.6 546.7,286.4C546.7,287.2 547.9,289.3 548.5,289.6C549.1,290.0 551.6,290.3 552.2,290.1C552.8,289.9 554.1,288.2 554.1,287.8C554.1,287.4 552.4,286.1 552.2,286.4C552.0,286.7 551.7,290.2 551.7,291.0C551.8,291.9 552.2,294.2 552.7,294.7C553.1,295.3 555.4,296.1 555.9,296.6C556.4,297.1 557.6,299.4 557.8,299.7M555.4,300.0C555.9,300.4 559.0,303.0 559.6,303.7C560.2,304.4 561.4,306.7 561.5,307.4C561.5,308.1 560.4,310.2 560.1,311.1C559.7,312.0 558.0,315.4 557.8,316.2C557.5,316.9 557.4,318.0 557.8,318.5C558.1,319.0 560.5,320.8 561.5,321.3C562.4,321.8 566.3,323.1 567.0,323.6C567.7,324.1 568.5,325.3 568.4,325.9C568.3,326.5 566.2,328.5 565.6,329.1C565.0,329.7 563.1,332.0 562.4,331.9C561.7,331.9 558.7,328.4 558.7,328.7C558.7,328.9 561.7,333.4 562.4,334.2C563.0,335.0 564.4,336.2 565.2,336.5C565.9,336.9 569.7,337.5 570.2,337.9C570.8,338.3 570.8,340.0 570.7,340.7C570.6,341.4 569.2,344.4 568.9,345.3C568.5,346.2 567.9,349.2 567.5,349.5C567.0,349.8 565.0,348.0 564.7,348.1C564.4,348.2 564.0,350.4 564.2,350.9C564.5,351.3 566.4,352.5 567.0,352.7C567.7,353.0 570.1,353.1 570.7,353.7C571.4,354.2 572.9,357.6 573.5,358.3C574.0,359.0 575.4,360.3 576.3,360.6C577.1,360.9 580.9,361.2 581.8,361.5C582.7,361.8 585.4,363.0 585.5,363.4C585.6,363.7 583.1,364.1 582.7,364.8C582.3,365.4 581.5,369.2 581.4,369.7M582.2,370.0C582.1,370.5 580.7,373.9 580.7,375.2C580.8,376.4 582.3,381.5 583.0,382.6C583.6,383.7 586.8,385.1 587.4,385.9C588.0,386.7 588.3,389.9 588.5,390.7C588.7,391.6 589.1,394.1 589.6,394.4C590.1,394.7 592.7,394.1 593.3,393.7C594.0,393.2 596.3,390.7 596.3,390.0C596.3,389.2 593.8,386.9 593.3,386.3C592.9,385.7 591.9,384.7 591.8,384.1C591.8,383.5 592.5,381.0 593.0,380.4C593.4,379.8 595.7,378.2 596.3,378.1C596.9,378.1 598.6,379.0 598.9,379.6C599.1,380.3 598.4,383.6 598.5,384.8C598.6,386.0 599.3,390.0 599.6,391.5C599.9,392.9 601.4,398.8 601.8,399.2C602.2,399.7 603.1,396.6 603.7,395.9C604.2,395.2 606.8,392.7 607.4,392.6C608.0,392.4 609.2,393.9 609.6,394.4C610.0,394.9 610.1,397.0 611.1,397.4C612.0,397.7 618.7,397.5 619.2,397.8C619.8,398.0 616.9,399.8 616.7,400.0M500.0,183.3C501.1,183.7 509.1,187.1 511.1,187.7C513.1,188.4 518.6,190.0 520.0,190.0C521.3,190.0 523.8,189.4 524.4,187.7C525.0,186.1 524.6,174.6 526.1,173.3C527.5,172.0 536.4,174.0 538.9,175.0C541.4,175.9 549.5,180.8 551.1,182.7C552.7,184.7 555.2,191.8 554.9,194.4C554.7,197.0 548.6,207.0 548.8,208.8C549.1,210.7 556.3,212.4 557.7,212.7C559.2,213.0 561.9,211.9 563.3,211.6C564.6,211.3 569.9,210.7 571.0,209.9C572.2,209.2 574.7,205.8 574.9,204.4C575.2,202.9 573.8,196.6 573.3,195.5C572.8,194.4 570.7,193.6 569.9,193.8C569.2,194.1 566.5,197.9 565.5,197.7C564.4,197.6 559.7,192.9 559.4,192.2C559.1,191.5 561.2,191.1 562.2,190.5C563.1,190.0 568.6,188.0 568.8,186.6C569.0,185.2 564.4,178.0 564.4,176.6C564.4,175.3 568.3,174.1 568.8,173.3C569.3,172.5 569.2,168.9 569.4,168.3C569.6,167.8 570.4,167.3 571.0,167.8C571.7,168.3 574.8,173.2 575.5,173.3C576.2,173.4 576.8,169.5 577.7,168.9C578.6,168.2 583.1,166.8 584.4,166.6C585.6,166.5 588.6,168.0 589.9,167.8C591.2,167.5 597.2,165.0 597.7,164.4C598.1,163.9 594.4,162.8 594.4,162.2C594.4,161.6 597.8,159.6 597.7,158.9C597.6,158.1 593.6,155.4 593.2,154.4C592.9,153.4 594.1,150.3 594.4,148.9C594.6,147.4 595.4,140.9 595.5,140.0M563.3,211.6C563.2,212.7 563.3,221.3 562.7,222.7C562.1,224.1 557.8,224.5 557.2,225.5C556.5,226.4 555.7,231.3 556.1,232.1C556.4,233.0 560.8,232.9 561.1,233.8C561.3,234.7 558.2,240.0 558.3,241.0C558.3,242.0 561.9,243.4 561.6,243.8C561.3,244.2 555.6,244.2 554.9,244.9C554.3,245.6 555.0,250.2 555.5,251.0C556.0,251.8 560.3,253.0 559.9,253.2C559.6,253.5 553.1,253.1 552.2,253.8C551.3,254.5 551.2,259.4 551.1,260.0M614.4,400.0C614.4,400.3 613.2,401.7 613.9,402.8C614.5,403.9 620.6,409.9 621.1,411.1C621.6,412.3 618.9,413.6 618.9,414.4C618.8,415.3 620.9,418.6 620.5,419.4C620.2,420.2 616.1,421.6 615.5,422.2C615.0,422.8 614.3,425.1 615.0,425.5C615.7,426.0 621.1,425.9 622.2,426.6C623.3,427.4 625.3,432.4 625.5,433.3C625.8,434.2 624.9,435.1 624.4,435.5C624.0,435.9 621.1,436.5 621.1,437.2C621.0,437.9 623.4,441.1 623.9,442.2C624.3,443.2 625.0,446.8 625.5,447.7C626.0,448.6 628.1,450.6 628.9,451.1C629.6,451.5 632.1,451.1 633.3,452.2C634.5,453.3 640.0,460.7 641.1,462.2C642.2,463.6 643.4,465.7 644.4,466.6C645.4,467.5 650.0,470.8 651.1,471.0C652.2,471.3 654.4,468.6 655.5,468.8C656.6,469.0 661.3,472.2 662.2,473.3C663.1,474.4 663.8,479.1 664.4,479.9C664.9,480.8 666.7,481.8 667.7,481.6C668.7,481.4 673.4,477.7 674.4,477.7C675.4,477.8 677.4,481.1 677.7,482.1C678.0,483.1 677.4,486.6 677.7,487.7C678.0,488.8 680.5,492.2 681.0,493.2C681.6,494.2 683.1,496.8 683.3,497.7C683.4,498.6 682.3,501.2 682.1,502.1C682.0,503.0 681.4,505.7 681.6,506.6C681.8,507.5 683.2,510.5 683.8,511.0C684.4,511.6 686.9,512.3 687.7,512.1C688.5,511.9 691.5,510.0 692.1,508.8C692.7,507.6 693.1,501.1 693.8,499.9C694.5,498.7 697.2,497.4 698.8,497.1C700.4,496.9 708.2,496.3 709.9,497.1C711.6,498.0 714.4,504.1 715.4,505.5C716.5,506.8 719.5,510.5 720.0,511.0" stroke="#000" stroke-width="2.9"/></g>
<rect x="85.5" y="45.4" width="907.2" height="1000.7" fill="none" stroke="#000" stroke-width="1.2"/>
<text x="215.5" y="1067.2" font-size="18.5" text-anchor="middle">5.6°E</text><text x="345.1" y="1067.2" font-size="18.5" text-anchor="middle">5.8°E</text><text x="474.7" y="1067.2" font-size="18.5" text-anchor="middle">6°E</text><text x="604.3" y="1067.2" font-size="18.5" text-anchor="middle">6.2°E</text><text x="733.9" y="1067.2" font-size="18.5" text-anchor="middle">6.4°E</text><text x="863.5" y="1067.2" font-size="18.5" text-anchor="middle">6.6°E</text><text x="78.2" y="101.1" font-size="18.5" text-anchor="end">50.25°N</text><text x="78.2" y="252.0" font-size="18.5" text-anchor="end">50.1°N</text><text x="78.2" y="403.1" font-size="18.5" text-anchor="end">49.95°N</text><text x="78.2" y="553.0" font-size="18.5" text-anchor="end">49.8°N</text><text x="78.2" y="703.0" font-size="18.5" text-anchor="end">49.65°N</text><text x="78.2" y="852.9" font-size="18.5" text-anchor="end">49.5°N</text><text x="78.2" y="1001.0" font-size="18.5" text-anchor="end">49.35°N</text>
<rect x="1050.5" y="964.02" width="45.0" height="32.48" fill="#6571a6"/><rect x="1050.5" y="931.84" width="45.0" height="32.48" fill="#5166a0"/><rect x="1050.5" y="899.66" width="45.0" height="32.48" fill="#44609f"/><rect x="1050.5" y="867.49" width="45.0" height="32.48" fill="#4a7bb0"/><rect x="1050.5" y="835.31" width="45.0" height="32.48" fill="#5a9fc6"/><rect x="1050.5" y="803.13" width="45.0" height="32.48" fill="#68c0de"/><rect x="1050.5" y="770.95" width="45.0" height="32.48" fill="#64d6c6"/><rect x="1050.5" y="738.77" width="45.0" height="32.48" fill="#40d070"/><rect x="1050.5" y="706.59" width="45.0" height="32.48" fill="#12c81e"/><rect x="1050.5" y="674.41" width="45.0" height="32.48" fill="#12b81a"/><rect x="1050.5" y="642.24" width="45.0" height="32.48" fill="#109e18"/><rect x="1050.5" y="610.06" width="45.0" height="32.48" fill="#0e8a14"/><rect x="1050.5" y="577.88" width="45.0" height="32.48" fill="#0a7412"/><rect x="1050.5" y="545.70" width="45.0" height="32.48" fill="#075e0c"/><rect x="1050.5" y="513.52" width="45.0" height="32.48" fill="#457810"/><rect x="1050.5" y="481.34" width="45.0" height="32.48" fill="#b0b00a"/><rect x="1050.5" y="449.16" width="45.0" height="32.48" fill="#ffd600"/><rect x="1050.5" y="416.99" width="45.0" height="32.48" fill="#ffb700"/><rect x="1050.5" y="384.81" width="45.0" height="32.48" fill="#ff9f00"/><rect x="1050.5" y="352.63" width="45.0" height="32.48" fill="#ff7f00"/><rect x="1050.5" y="320.45" width="45.0" height="32.48" fill="#e00000"/><rect x="1050.5" y="288.27" width="45.0" height="32.48" fill="#c00000"/><rect x="1050.5" y="256.09" width="45.0" height="32.48" fill="#a00000"/><rect x="1050.5" y="223.91" width="45.0" height="32.48" fill="#780000"/><rect x="1050.5" y="191.74" width="45.0" height="32.48" fill="#ffe0ff"/><rect x="1050.5" y="159.56" width="45.0" height="32.48" fill="#ffb0ff"/><rect x="1050.5" y="127.38" width="45.0" height="32.48" fill="#ff60ff"/><rect x="1050.5" y="95.20" width="45.0" height="32.48" fill="#e836e8"/>
<rect x="1050.5" y="95.2" width="45.0" height="901.0" fill="none" stroke="#000" stroke-width="1.2"/>
<text x="1106.5" y="1006.5" font-size="30">0</text>
<text x="1106.5" y="877.8" font-size="30">10</text>
<text x="1106.5" y="749.1" font-size="30">20</text>
<text x="1106.5" y="620.4" font-size="30">30</text>
<text x="1106.5" y="491.6" font-size="30">40</text>
<text x="1106.5" y="362.9" font-size="30">50</text>
<text x="1106.5" y="234.2" font-size="30">60</text>
<text x="1106.5" y="105.5" font-size="30">70</text>
<path d="M1095.5 996.2H1101M1095.5 867.5H1101M1095.5 738.8H1101M1095.5 610.1H1101M1095.5 481.3H1101M1095.5 352.6H1101M1095.5 223.9H1101M1095.5 95.2H1101" stroke="#000" stroke-width="1.2"/>
<text transform="translate(1168.9 548) rotate(-90)" font-size="29" text-anchor="middle">dBZ</text>
<rect x="94.1" y="50.5" width="218.3" height="49.7" fill="#fff" stroke="#000" stroke-width="1.2"/>
<text x="99.6" y="70" font-size="18.6" textLength="207.2" lengthAdjust="spacingAndGlyphs">Product: 0.5° Reflectivity</text>
<text x="99.6" y="90.6" font-size="18.6" textLength="92.8" lengthAdjust="spacingAndGlyphs">Data: DWD</text>
<text x="396.6" y="367.7" font-size="21" font-weight="bold" textLength="55.4" lengthAdjust="spacingAndGlyphs">Wiltz</text>
<path d="M425.79999999999995 378.4H433.0M429.4 374.09999999999997V382.7" stroke="#000" stroke-width="1.2"/>
<path d="M426.0 377.1h2.3v2.6h-2.3zM430.5 377.1h2.3v2.6h-2.3z" fill="#000"/>
<text x="507.3" y="487.8" font-size="21" font-weight="bold" textLength="113.7" lengthAdjust="spacingAndGlyphs">Ettelbruck</text>
<path d="M535.9 498.5H543.1M539.5 494.2V502.8" stroke="#000" stroke-width="1.2"/>
<path d="M536.1 497.2h2.3v2.6h-2.3zM540.6 497.2h2.3v2.6h-2.3z" fill="#000"/>
<text x="578.2" y="710.6" font-size="21" font-weight="bold" textLength="66.4" lengthAdjust="spacingAndGlyphs">Findel</text>
<path d="M606.8 721.4H614.0M610.4 717.1V725.6999999999999" stroke="#000" stroke-width="1.2"/>
<path d="M607.0 720.1h2.3v2.6h-2.3zM611.5 720.1h2.3v2.6h-2.3z" fill="#000"/>
<text x="436.3" y="837.8" font-size="21" font-weight="bold" textLength="135.0" lengthAdjust="spacingAndGlyphs">Esch/Alzette</text>
<path d="M463.79999999999995 848.3H471.0M467.4 844.0V852.5999999999999" stroke="#000" stroke-width="1.2"/>
<path d="M464.0 847.0h2.3v2.6h-2.3zM468.5 847.0h2.3v2.6h-2.3z" fill="#000"/>
<circle cx="829" cy="237" r="5.4" fill="#f00000" stroke="#1a0000" stroke-width="1.1"/>
<rect x="787" y="67" width="3.1" height="3.1" fill="#2d5e3c"/>
<circle cx="710" cy="123.8" r="1.9" fill="#4d5a85"/>
</svg>
</body></html>
